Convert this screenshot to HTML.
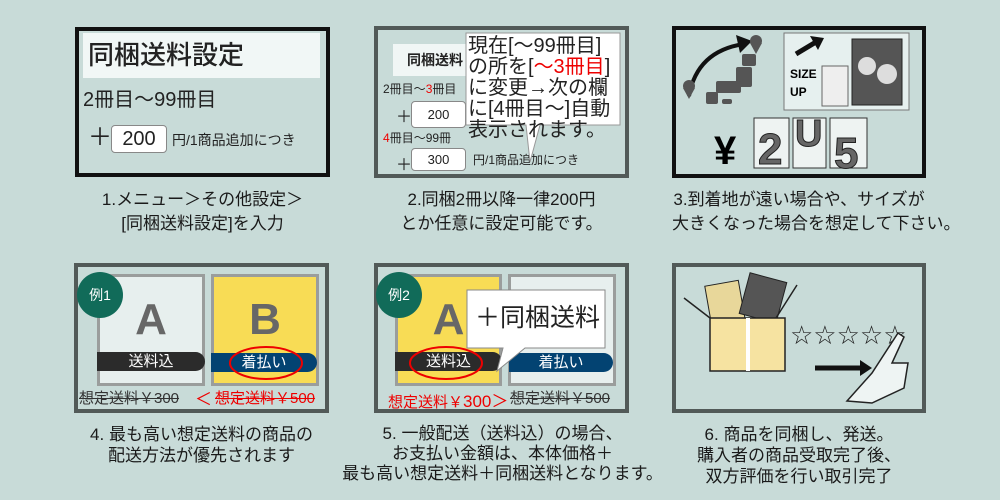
<!DOCTYPE html>
<html><head><meta charset="utf-8"><style>
*{margin:0;padding:0;box-sizing:border-box}
body{width:1000px;height:500px;background:#c8dbd8;position:relative;overflow:hidden;font-family:"Liberation Sans","Noto Sans CJK JP",sans-serif;color:#222}
.a{position:absolute}
.cap{position:absolute;text-align:center;font-size:17px;line-height:24px;color:#1a1a1a;white-space:nowrap}
.frame{position:absolute;border:4px solid #525a58}
.inp{position:absolute;background:#fff;border:1px solid #888;border-radius:4px;text-align:center}
.card{position:absolute;border:3px solid #9a9d9c}
.big{position:absolute;width:100%;text-align:center;font-weight:bold;color:#676767;font-size:44px}
.bar{position:absolute;color:#fff;text-align:center;font-size:15px;line-height:19px;border-radius:0 10px 10px 0}
.ex{position:absolute;width:46px;height:46px;border-radius:50%;background:#116b59;color:#fff;font-size:14px;text-align:center;line-height:46px}
.pt{position:absolute;font-size:15px;white-space:nowrap}
.st{text-decoration:line-through}
</style></head><body>

<!-- Panel 1 -->
<div class="frame" style="left:75px;top:27px;width:255px;height:150px;border-color:#111"></div>
<div class="a" style="left:83px;top:33px;width:237px;height:45px;background:#f1f7f6"></div>
<div class="a" style="left:88px;top:36px;font-size:26px;line-height:38px;font-weight:500">同梱送料設定</div>
<div class="a" style="left:83px;top:86px;font-size:20px;line-height:28px">2冊目～99冊目</div>
<div class="a" style="left:88px;top:124px;font-size:24px;line-height:28px">＋</div>
<div class="inp" style="left:111px;top:125px;width:56px;height:28px;font-size:20px;line-height:26px">200</div>
<div class="a" style="left:172px;top:130px;font-size:14px;line-height:20px">円/1商品追加につき</div>
<div class="cap" style="left:75px;width:255px;top:188px">1.メニュー＞その他設定＞<br>[同梱送料設定]を入力</div>

<!-- Panel 2 -->
<div class="frame" style="left:374px;top:26px;width:255px;height:152px"></div>
<div class="a" style="left:393px;top:44px;width:90px;height:32px;background:#f0f6f5"></div>
<div class="a" style="left:407px;top:50px;font-size:14px;line-height:20px;font-weight:bold">同梱送料</div>
<div class="a" style="left:383px;top:80px;font-size:12px;line-height:18px">2冊目～<span style="color:#e00">3</span>冊目</div>
<div class="a" style="left:396px;top:103px;font-size:16px">＋</div>
<div class="inp" style="left:411px;top:101px;width:55px;height:27px;font-size:13px;line-height:25px">200</div>
<div class="a" style="left:383px;top:129px;font-size:12px;line-height:18px"><span style="color:#e00">4</span>冊目～99冊</div>
<div class="a" style="left:396px;top:151px;font-size:16px">＋</div>
<div class="inp" style="left:411px;top:148px;width:55px;height:23px;font-size:13px;line-height:21px">300</div>
<div class="a" style="left:473px;top:151px;font-size:12px;line-height:18px">円/1商品追加につき</div>
<svg class="a" style="left:460px;top:30px" width="170" height="135"><path d="M6 3H160V95H80L70 132L66 95H6Z" fill="#fff" stroke="#999" stroke-width="1"/></svg>
<div class="a" style="left:468px;top:36px;font-size:20px;line-height:21px;white-space:nowrap">現在[～99冊目]<br>の所を[<span style="color:#e00">～3冊目</span>]<br>に変更→次の欄<br>に[4冊目～]自動<br>表示されます。</div>
<div class="cap" style="left:374px;width:255px;top:188px">2.同梱2冊以降一律200円<br>とか任意に設定可能です。</div>

<!-- Panel 3 -->
<div class="frame" style="left:672px;top:26px;width:254px;height:152px;border-color:#111"></div>
<svg class="a" style="left:672px;top:26px" width="254" height="152">
<path d="M17 70 Q25 25 72 18" fill="none" stroke="#111" stroke-width="4"/>
<path d="M64 9 L80 15 L68 27Z" fill="#111"/>
<g fill="#555"><circle cx="84" cy="15" r="6"/><path d="M78 17 L84 28 L90 17Z"/><circle cx="17" cy="60" r="6"/><path d="M11 62 L17 73 L23 62Z"/>
<rect x="70" y="28" width="14" height="12" rx="2"/><rect x="64" y="41" width="16" height="20" rx="2"/><rect x="44" y="55" width="25" height="12" rx="2"/><rect x="34" y="66" width="12" height="12" rx="2"/><rect x="50" y="73" width="10" height="5" rx="2"/></g>
<rect x="112" y="7" width="125" height="77" fill="#e6f0ef" stroke="#777"/>
<path d="M124 28 L144 16" stroke="#111" stroke-width="5"/><path d="M138 10 L152 12 L146 24Z" fill="#111"/>
<text x="118" y="52" font-size="12" font-weight="bold" font-family="Liberation Sans">SIZE</text>
<text x="118" y="70" font-size="12" font-weight="bold" font-family="Liberation Sans">UP</text>
<rect x="150" y="40" width="26" height="40" fill="#eee" stroke="#666"/>
<rect x="180" y="13" width="50" height="66" fill="#555" stroke="#222"/>
<circle cx="195" cy="40" r="9" fill="#ddd"/><circle cx="215" cy="48" r="10" fill="#ddd"/>
<text x="42" y="138" font-size="40" font-weight="bold" font-family="Liberation Sans">¥</text>
<rect x="82" y="92" width="35" height="50" fill="#eef3f2" stroke="#333"/>
<rect x="121" y="92" width="33" height="50" fill="#eef3f2" stroke="#333"/>
<rect x="158" y="92" width="37" height="50" fill="#eef3f2" stroke="#333"/>
<text x="86" y="138" font-size="44" font-weight="bold" fill="#666" stroke="#222" font-family="Liberation Sans">2</text>
<text x="123" y="120" font-size="38" font-weight="bold" fill="#666" stroke="#222" font-family="Liberation Sans">U</text>
<text x="162" y="142" font-size="44" font-weight="bold" fill="#666" stroke="#222" font-family="Liberation Sans">5</text>
</svg>
<div class="cap" style="left:672px;width:254px;top:188px">3.到着地が遠い場合や、サイズが<br>大きくなった場合を想定して下さい。</div>

<!-- Panel 4 -->
<div class="frame" style="left:74px;top:263px;width:255px;height:150px"></div>
<div class="card" style="left:97px;top:274px;width:108px;height:112px;background:#e7efee"><div class="big" style="top:18px">A</div></div>
<div class="card" style="left:211px;top:274px;width:108px;height:112px;background:#f8dc55"><div class="big" style="top:18px">B</div></div>
<div class="bar" style="left:97px;top:352px;width:108px;background:#2b2b2b">送料込</div>
<div class="bar" style="left:211px;top:353px;width:106px;background:#034372">着払い</div>
<svg class="a" style="left:228px;top:344px" width="80" height="40"><ellipse cx="38" cy="19" rx="36" ry="16" fill="none" stroke="#e00" stroke-width="2"/></svg>
<div class="ex" style="left:77px;top:272px">例1</div>
<div class="pt st" style="left:79px;top:387px;color:#333">想定送料￥300</div>
<div class="pt" style="left:195px;top:385px;color:#e00;font-size:17px">＜</div>
<div class="pt st" style="left:215px;top:387px;color:#e00">想定送料￥500</div>
<div class="cap" style="left:74px;width:255px;top:424px;line-height:21px">4. 最も高い想定送料の商品の<br>配送方法が優先されます</div>

<!-- Panel 5 -->
<div class="frame" style="left:374px;top:263px;width:255px;height:150px"></div>
<div class="card" style="left:395px;top:274px;width:107px;height:112px;background:#f8dc55"><div class="big" style="top:18px">A</div></div>
<div class="card" style="left:508px;top:274px;width:108px;height:112px;background:#e7efee"></div>
<div class="bar" style="left:395px;top:352px;width:107px;background:#2b2b2b">送料込</div>
<div class="bar" style="left:509px;top:353px;width:104px;background:#034372">着払い</div>
<svg class="a" style="left:408px;top:344px" width="80" height="40"><ellipse cx="38" cy="19" rx="36" ry="16" fill="none" stroke="#e00" stroke-width="2"/></svg>
<svg class="a" style="left:465px;top:288px" width="142" height="90"><path d="M2 2H140V60H60L32 83L38 60H2Z" fill="#fff" stroke="#888"/></svg>
<div class="a" style="left:475px;top:302px;font-size:25px;line-height:32px">＋同梱送料</div>
<div class="ex" style="left:376px;top:272px">例2</div>
<div class="pt" style="left:388px;top:387px;color:#e00">想定送料￥<span style="font-size:17px">300＞</span></div>
<div class="pt st" style="left:510px;top:387px;color:#333">想定送料￥500</div>
<div class="cap" style="left:320px;width:365px;top:424px;line-height:20px">5. 一般配送（送料込）の場合、<br>お支払い金額は、本体価格＋<br>最も高い想定送料＋同梱送料となります。</div>

<!-- Panel 6 -->
<div class="frame" style="left:672px;top:263px;width:254px;height:150px"></div>
<svg class="a" style="left:672px;top:263px" width="254" height="150">
<rect x="36" y="20" width="34" height="40" fill="#e8d79a" stroke="#222" transform="rotate(-10 53 40)"/>
<rect x="72" y="14" width="38" height="42" fill="#555" stroke="#222" transform="rotate(15 91 35)"/>
<path d="M12 35 L38 55 M125 22 L104 55" stroke="#222" stroke-width="1.5"/>
<rect x="38" y="55" width="75" height="53" fill="#f6e3a1" stroke="#222" stroke-width="1.5"/>
<rect x="74" y="55" width="4" height="53" fill="#fff"/>
<text x="118" y="81" font-size="26" fill="#222" font-family="DejaVu Sans">☆☆☆☆☆</text>
<path d="M143 105 H190" stroke="#111" stroke-width="5"/><path d="M188 97 L200 105 L188 113Z" fill="#111"/>
<path d="M175 138 L200 110 L226 70 L232 74 L220 100 L236 100 L232 125 L200 140Z" fill="#eef4f3" stroke="#222" stroke-width="1.5"/>
</svg>
<div class="cap" style="left:672px;width:254px;top:424px;line-height:21px">6. 商品を同梱し、発送。<br>購入者の商品受取完了後、<br>双方評価を行い取引完了</div>
</body></html>
